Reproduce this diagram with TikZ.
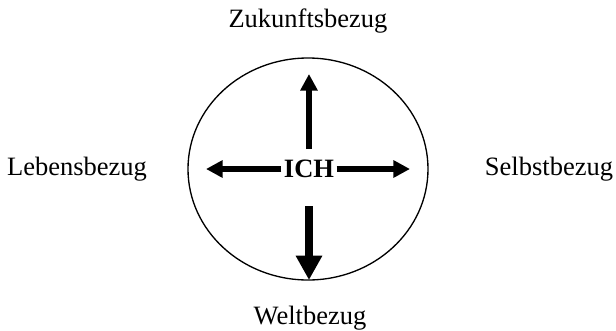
\documentclass[tikz,border=0pt]{standalone}
\usepackage{fontspec}
\setmainfont{Liberation Serif}
\usetikzlibrary{arrows.meta}

\begin{document}
\begin{tikzpicture}[x=0.4528pt, y=-0.4528pt]

    \tikzset{
      label/.style={
        font=\fontsize{12}{14}\selectfont,
        anchor=base,
        inner sep=0pt,
      },
      ray/.style={
        line width=2.7pt,
        -{Triangle[length=7.5pt, width=7.5pt]},
      },
      bigray/.style={
        line width=3.6pt,
        -{Triangle[length=11pt, width=11.3pt]},
      },
    }
    \useasboundingbox (0,0) rectangle (616,331);
    	\draw[line width=0.6pt] (308,169) ellipse [x radius=120, y radius=111];
	\node[label, font=\fontsize{12}{14}\selectfont\bfseries, inner sep=1pt] (ich) at (309,177) {ICH};
	\node[label] (zukunft) at (308,27) {Zukunftsbezug};
	\node[label] (leben) at (77,175) {Lebensbezug};
	\node[label] (selbst) at (549,175) {Selbstbezug};
	\node[label] (welt) at (310,324) {Weltbezug};
	\coordinate (obenA) at (309,149);
	\coordinate (obenB) at (309,74);
	\coordinate (linksB) at (206,169);
	\coordinate (rechtsB) at (410,169);
	\coordinate (untenA) at (309,206);
	\coordinate (untenB) at (309,280);
\draw[ray] (obenA) -- (obenB);
\draw[ray] (ich.west |- linksB) -- (linksB);
\draw[ray] (ich.east |- rechtsB) -- (rechtsB);
\draw[bigray] (untenA) -- (untenB);


\end{tikzpicture}
\end{document}
